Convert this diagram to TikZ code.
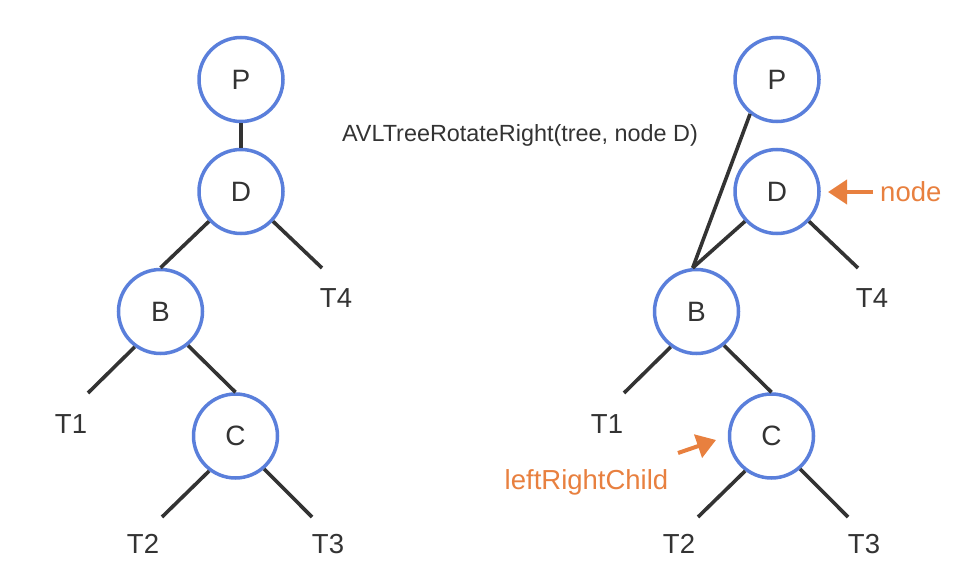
\documentclass[tikz,border=0pt]{standalone}
\usepackage{fontspec}
\setmainfont{Liberation Sans}
\usetikzlibrary{arrows.meta}
\definecolor{nodeblue}{HTML}{5A7FDB}
\definecolor{accent}{HTML}{E8803F}
\definecolor{ink}{HTML}{333333}
\begin{document}
\begin{tikzpicture}[x=1pt,y=1pt,
  treenode/.style={circle, draw=nodeblue, line width=3.5pt, minimum size=84pt, inner sep=0pt, text=ink, font=\fontsize{28}{30}\selectfont},
  leaf/.style={text=ink, font=\fontsize{27.5}{30}\selectfont, anchor=base, inner sep=0pt},
  edge/.style={draw=ink, line width=3.6pt},
  pointer/.style={draw=accent, line width=4pt, -{Triangle[length=19pt,width=24pt]}},
  lbl/.style={text=accent, font=\fontsize{27.5}{30}\selectfont, anchor=base, inner sep=0pt}]
\useasboundingbox (0,0) rectangle (966,582);

% ---------- left tree ----------
\node[treenode] (P1) at (241,502.5) {P};
\node[treenode] (D1) at (241,390.5) {D};
\node[treenode] (B1) at (160.5,270.5) {B};
\node[treenode] (C1) at (235.5,146) {C};
\node[leaf] (L1T1) at (71,149) {T1};
\node[leaf] (L1T4) at (336,275) {T4};
\node[leaf] (L1T2) at (143,29) {T2};
\node[leaf] (L1T3) at (328,29) {T3};
\coordinate (e1T4) at (322,314);
\coordinate (e1T1) at (88,189);
\coordinate (e1T2) at (162,65);
\coordinate (e1T3) at (312,65);
\draw[edge] (P1) -- (D1);
\draw[edge] (D1.223) -- (B1.north);
\draw[edge] (D1.317) -- (e1T4);
\draw[edge] (B1.234) -- (e1T1);
\draw[edge] (B1.309) -- (C1.north);
\draw[edge] (C1.233) -- (e1T2);
\draw[edge] (C1.311) -- (e1T3);

% ---------- title ----------
\node[text=ink, font=\fontsize{23.4}{26}\selectfont, anchor=base, inner sep=0pt] (title) at (520,440) {AVLTreeRotateRight(tree, node D)};

% ---------- right tree ----------
\node[treenode] (P2) at (777,502.5) {P};
\node[treenode] (D2) at (777,390.5) {D};
\node[treenode] (B2) at (696.5,270.5) {B};
\node[treenode] (C2) at (771.5,146) {C};
\node[leaf] (L2T1) at (607,149) {T1};
\node[leaf] (L2T4) at (872,275) {T4};
\node[leaf] (L2T2) at (679,29) {T2};
\node[leaf] (L2T3) at (864,29) {T3};
\coordinate (e2T4) at (858,314);
\coordinate (e2T1) at (624,189);
\coordinate (e2T2) at (698,65);
\coordinate (e2T3) at (848,65);
\draw[edge] (P2.232) -- (B2.95);
\draw[edge] (D2.223) -- (B2.95);
\draw[edge] (D2.317) -- (e2T4);
\draw[edge] (B2.234) -- (e2T1);
\draw[edge] (B2.309) -- (C2.north);
\draw[edge] (C2.233) -- (e2T2);
\draw[edge] (C2.311) -- (e2T3);

% ---------- pointers ----------
\node[lbl, anchor=base west] (nodelbl) at (880,380.5) {node};
\coordinate (nodetail) at (873,390);
\coordinate (nodetip) at (828,390);
\draw[pointer] (nodetail) -- (nodetip);

\node[lbl] (lrclbl) at (586.5,93) {leftRightChild};
\coordinate (lrtail) at (678,129);
\coordinate (lrtip) at (716,142);
\draw[pointer] (lrtail) -- (lrtip);
\end{tikzpicture}
\end{document}
